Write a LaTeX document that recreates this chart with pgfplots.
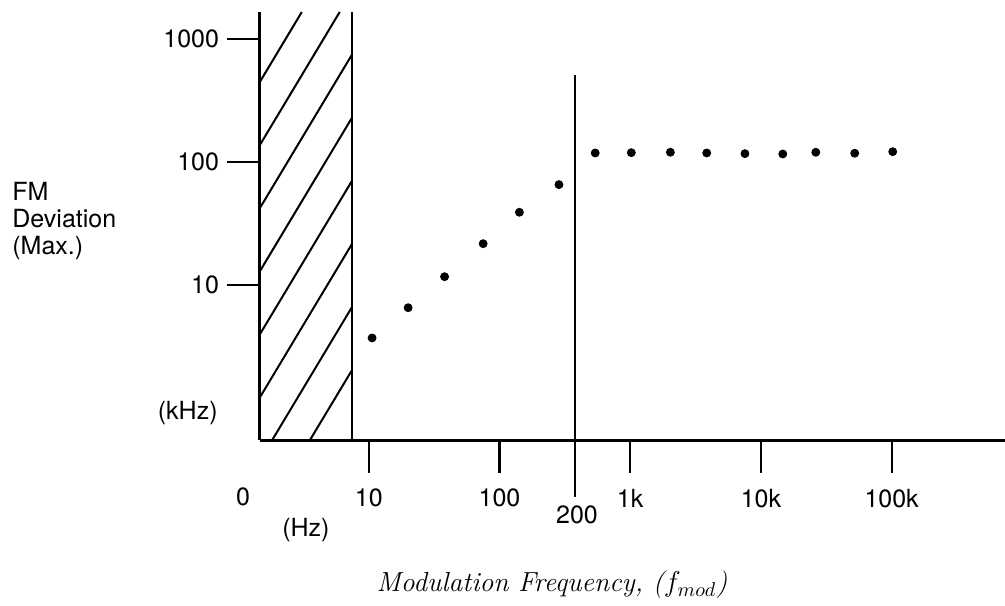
\documentclass[border=0pt]{standalone}
\usepackage{pgfplots}
\pgfplotsset{compat=1.18}
\usepackage{fontspec}
\newfontfamily\heros{TeX Gyre Heros}
\newcommand{\lblfont}{\heros\fontsize{12.5}{14}\selectfont}
\begin{document}
\begin{tikzpicture}
\useasboundingbox (-130pt,-82.5pt) rectangle (372.5pt,220pt);
\begin{axis}[
  width=372.5pt, height=214pt, scale only axis,
  xmode=log, ymode=log,
  xmin=1.4712, xmax=737400, ymin=0.5562, ymax=1646,
  axis lines*=left,
  axis line style={line width=1.5pt},
  clip=false,
  xtick={10,100,1000,10000,100000},
  xticklabels={10,100,1k,10k,100k},
  ytick={10,100,1000},
  yticklabels={10,100,1000},
  xminorticks=false, yminorticks=false,
  tick align=outside,
  major tick length=16.5pt,
  tick style={line width=1.1pt, black},
  tick label style={font=\lblfont},
  xticklabel style={yshift=-4.5pt},
  yticklabel style={xshift=-0.5pt},
]
% data points
\addplot[only marks, mark=*, mark size=2pt, black] coordinates {
  (10.6,3.74) (20,6.58) (38,11.74) (75,21.75) (142,39.1) (285,65.5)
  (540,118.3) (1020,119) (2030,119.9) (3850,118.3) (7550,116.8)
  (14700,116.1) (26300,119.9) (52200,117.7) (102000,121.2)
};
% hatch boundary and 200 Hz line
\draw[line width=1.1pt] (rel axis cs:0.1235,0) -- (rel axis cs:0.1235,1);
\draw[line width=1.1pt] (rel axis cs:0.4228,0.8528) -- (rel axis cs:0.4228,-0.1332);
% hatching
\begin{scope}[line width=1pt]
\draw (rel axis cs:0,0.8372) -- (rel axis cs:0.0561,1);
\draw (rel axis cs:0,0.6897) -- (rel axis cs:0.1070,1);
\draw (rel axis cs:0,0.5423) -- (rel axis cs:0.1235,0.9005);
\draw (rel axis cs:0,0.3949) -- (rel axis cs:0.1235,0.7530);
\draw (rel axis cs:0,0.2474) -- (rel axis cs:0.1235,0.6056);
\draw (rel axis cs:0,0.1000) -- (rel axis cs:0.1235,0.4582);
\draw (rel axis cs:0.0164,0) -- (rel axis cs:0.1235,0.3107);
\draw (rel axis cs:0.0671,0) -- (rel axis cs:0.1235,0.1633);
\end{scope}
% labels
\node[font=\lblfont] at (rel axis cs:-0.0228,-0.1332) {0};
\node[font=\lblfont] at (rel axis cs:0.0617,-0.2103) {(Hz)};
\node[font=\lblfont] at (rel axis cs:0.4255,-0.1752) {200};
\node[font=\lblfont, anchor=east, inner sep=0pt] at (rel axis cs:-0.0564,0.0631) {(kHz)};
\node[font=\heros\fontsize{12.5}{13.5}\selectfont, anchor=west, align=left, inner sep=0pt] at (rel axis cs:-0.3329,0.5117) {FM\\Deviation\\(Max.)};
\node[font=\fontsize{13.8}{16}\selectfont\itshape] at (rel axis cs:0.392,-0.3388) {Modulation Frequency, ($f_{mod}$)};
\end{axis}
\end{tikzpicture}
\end{document}
